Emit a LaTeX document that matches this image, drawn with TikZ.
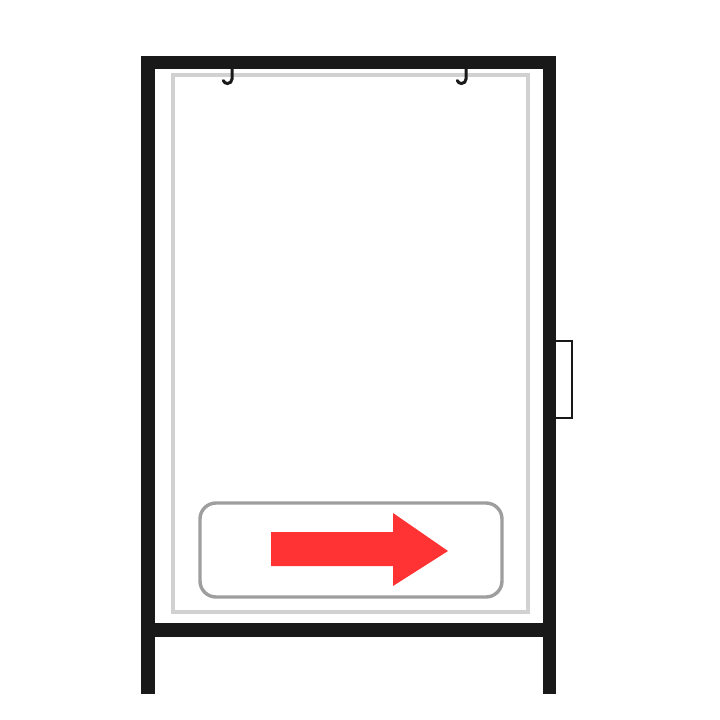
\documentclass[tikz,border=0pt]{standalone}
\usetikzlibrary{positioning}
\definecolor{signred}{HTML}{FF3333}
\tikzset{
  framebar/.style={fill=black!90},
  hookline/.style={draw=black!90, line width=3, line cap=round},
}

\begin{document}
\begin{tikzpicture}[x=1pt, y=-1pt]
    \useasboundingbox (0,0) rectangle (720,720);
    \def\bw{13.5}
    % frame
    \fill[framebar] (141,56) rectangle (556,69);
    \fill[framebar] (141,56) rectangle (141+\bw,694);
    \fill[framebar] (556-\bw,56) rectangle (556,694);
    \fill[framebar] (141,623) rectangle (556,637);
    % panel
    \draw[black!18, line width=3.2] (173,75) rectangle (528,612);
    % sign with arrow
    \draw[black!38, line width=3.4, rounded corners=16] (200,503) rectangle (502,597);
    \fill[signred] (271,532) -- (393,532) -- (393,513) -- (448,551) -- (393,586)
        -- (393,566) -- (271,566) -- cycle;
    % handle
    \draw[black!90, line width=2.8] (556,341) -- (572,341) -- (572,418) -- (556,418);
    % hooks
    \foreach \hx in {232,466}
        \draw[hookline] (\hx,69) -- (\hx,79) arc[start angle=0, end angle=160, radius=4.5];
\end{tikzpicture}
\end{document}
